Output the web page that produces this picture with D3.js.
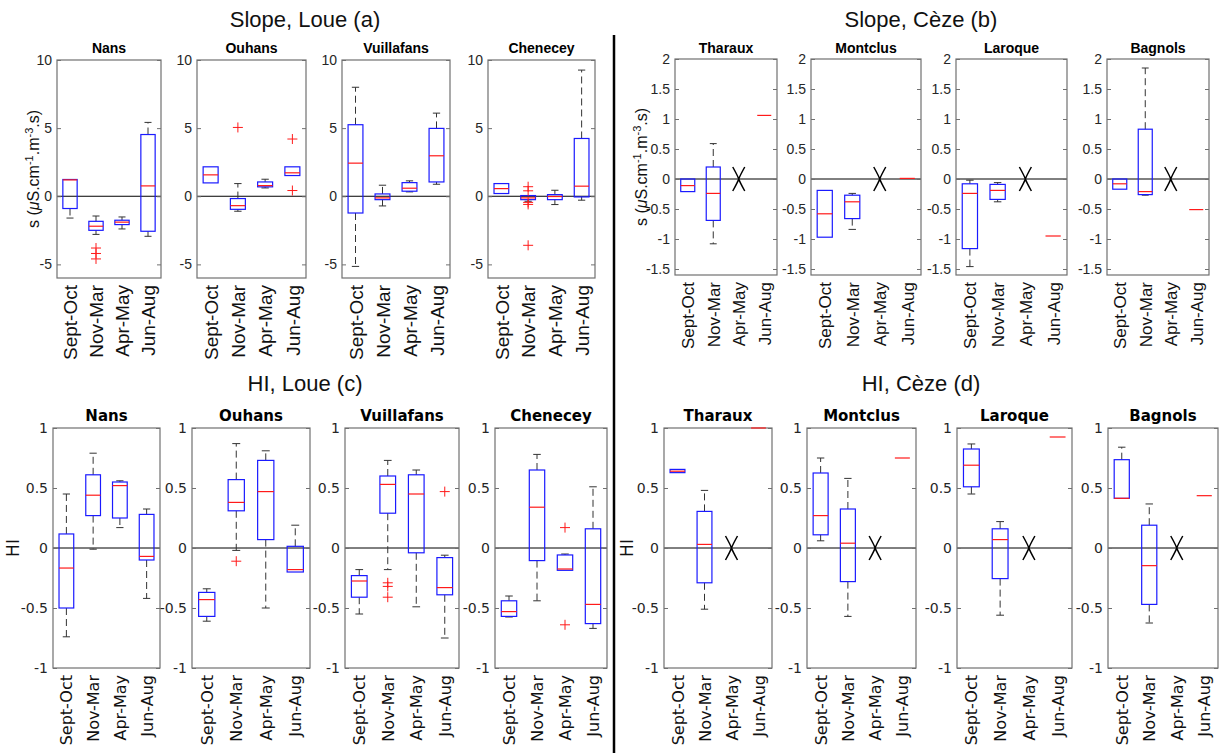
<!DOCTYPE html>
<html><head><meta charset="utf-8">
<script src="https://cdn.jsdelivr.net/npm/d3@7"></script>
<style>body{margin:0;background:#fff}</style></head>
<body>
<svg id="c" width="1219" height="753" xmlns="http://www.w3.org/2000/svg"></svg>
<script>
// ---------- DATA ----------
const seasons = ["Sept-Oct", "Nov-Mar", "Apr-May", "Jun-Aug"];
const loueStations = ["Nans", "Ouhans", "Vuillafans", "Chenecey"];
const cezeStations = ["Tharaux", "Montclus", "Laroque", "Bagnols"];

// box stats per station, per season: [lowWhisker, q1, median, q3, highWhisker]; null = no data
const slopeLoue = [
  [[-1.6, -0.9, 1.2, 1.23, 1.23], [-2.8, -2.5, -2.2, -1.84, -1.45], [-2.4, -2.08, -1.9, -1.76, -1.52], [-2.94, -2.57, 0.76, 4.53, 5.42]],
  [[0.98, 0.98, 1.57, 2.16, 2.16], [-1.1, -0.96, -0.69, -0.17, 0.93], [0.61, 0.69, 0.78, 1.05, 1.25], [1.52, 1.52, 1.72, 2.16, 2.16]],
  [[-5.15, -1.23, 2.43, 5.25, 8.0], [-0.71, -0.25, -0.12, 0.17, 0.81], [0.32, 0.37, 0.59, 1.0, 1.13], [0.88, 1.05, 2.97, 4.98, 6.1]],
  [[0.2, 0.2, 0.56, 0.93, 0.93], [-0.37, -0.25, -0.12, 0.05, 0.05], [-0.61, -0.25, -0.02, 0.12, 0.44], [-0.29, -0.05, 0.74, 4.24, 9.26]]
];
const slopeLoueOut = [
  [[], [-3.8, -4.2, -4.6], [], []],
  [[], [5.05], [], [4.2, 0.42]],
  [[], [], [], []],
  [[], [0.7, 0.4, -0.45, -0.6, -3.6], [], []]
];
const slopeCeze = [
  [[-0.21, -0.21, -0.11, 0, 0], [-1.08, -0.69, -0.24, 0.2, 0.59], null, [1.06, 1.06, 1.06, 1.06, 1.06]],
  [[-0.97, -0.97, -0.58, -0.19, -0.19], [-0.84, -0.66, -0.38, -0.27, -0.24], null, [0.01, 0.01, 0.01, 0.01, 0.01]],
  [[-1.46, -1.16, -0.24, -0.08, -0.02], [-0.38, -0.34, -0.19, -0.09, -0.06], null, [-0.95, -0.95, -0.95, -0.95, -0.95]],
  [[-0.17, -0.17, -0.08, 0, 0], [-0.27, -0.26, -0.21, 0.83, 1.85], null, [-0.51, -0.51, -0.51, -0.51, -0.51]]
];
const slopeCezeOut = [[[], [], [], []], [[], [], [], []], [[], [], [], []], [[], [], [], []]];
const hiLoue = [
  [[-0.74, -0.5, -0.167, 0.117, 0.45], [-0.01, 0.27, 0.44, 0.61, 0.79], [0.17, 0.25, 0.52, 0.55, 0.56], [-0.42, -0.1, -0.07, 0.28, 0.325]],
  [[-0.61, -0.57, -0.43, -0.37, -0.34], [-0.02, 0.31, 0.38, 0.57, 0.87], [-0.5, 0.07, 0.47, 0.73, 0.81], [-0.2, -0.2, -0.18, 0.014, 0.19]],
  [[-0.55, -0.41, -0.275, -0.23, -0.18], [-0.18, 0.29, 0.53, 0.6, 0.73], [-0.49, -0.04, 0.45, 0.61, 0.65], [-0.75, -0.39, -0.33, -0.08, -0.06]],
  [[-0.575, -0.57, -0.53, -0.44, -0.4], [-0.44, -0.105, 0.34, 0.65, 0.78], [-0.186, -0.186, -0.175, -0.058, -0.05], [-0.67, -0.63, -0.47, 0.16, 0.51]]
];
const hiLoueOut = [
  [[], [], [], []],
  [[], [-0.11], [], []],
  [[], [-0.29, -0.32, -0.41], [], [0.47]],
  [[], [], [0.17, -0.64], []]
];
const hiCeze = [
  [[0.628, 0.628, 0.64, 0.655, 0.655], [-0.51, -0.29, 0.03, 0.305, 0.48], null, [1, 1, 1, 1, 1]],
  [[0.06, 0.11, 0.27, 0.625, 0.75], [-0.57, -0.28, 0.04, 0.325, 0.58], null, [0.75, 0.75, 0.75, 0.75, 0.75]],
  [[0.45, 0.51, 0.69, 0.825, 0.867], [-0.56, -0.255, 0.07, 0.16, 0.22], null, [0.925, 0.925, 0.925, 0.925, 0.925]],
  [[0.414, 0.414, 0.414, 0.736, 0.84], [-0.625, -0.47, -0.147, 0.19, 0.367], null, [0.436, 0.436, 0.436, 0.436, 0.436]]
];
const hiCezeOut = [[[], [], [], []], [[], [], [], []], [[], [], [], []], [[], [], [], []]];

const slopeLoueTicks = [-5, 0, 5, 10];
const slopeCezeTicks = [-1.5, -1, -0.5, 0, 0.5, 1, 1.5, 2];
const hiTicks = [-1, -0.5, 0, 0.5, 1];

// ---------- LAYOUT ----------
const ARIAL = "'Liberation Sans', Arial, sans-serif";
const DEJA = "'DejaVu Sans', Verdana, sans-serif";
const groups = [
  {title: "Slope, Loue (a)", tx: 305, ty: 27, stations: loueStations, data: slopeLoue, out: slopeLoueOut,
   ticks: slopeLoueTicks, domain: [-6, 10], top: 60, bottom: 278,
   xs: [[57, 161], [197, 306], [342, 450], [488, 595]], font: ARIAL, tickFs: 14, labFs: 19, subFs: 14,
   subY: 53, ylab: "slope", ylabX: 39},
  {title: "Slope, Cèze (b)", tx: 921, ty: 27, stations: cezeStations, data: slopeCeze, out: slopeCezeOut,
   ticks: slopeCezeTicks, domain: [-1.6, 2], top: 59, bottom: 275,
   xs: [[675, 777], [811, 921], [956, 1067], [1107, 1209]], font: ARIAL, tickFs: 14, labFs: 17, subFs: 14,
   subY: 53, ylab: "slope", ylabX: 647},
  {title: "HI, Loue (c)", tx: 305, ty: 391, stations: loueStations, data: hiLoue, out: hiLoueOut,
   ticks: hiTicks, domain: [-1, 1], top: 428, bottom: 668,
   xs: [[53, 160], [192, 310], [345, 459], [495, 607]], font: DEJA, tickFs: 14, labFs: 16, subFs: 15,
   subY: 421, ylab: "HI", ylabX: 19},
  {title: "HI, Cèze (d)", tx: 921, ty: 391, stations: cezeStations, data: hiCeze, out: hiCezeOut,
   ticks: hiTicks, domain: [-1, 1], top: 428, bottom: 668,
   xs: [[664, 772], [807, 916], [957, 1072], [1108, 1218]], font: DEJA, tickFs: 14, labFs: 16, subFs: 15,
   subY: 421, ylab: "HI", ylabX: 633}
];

const svg = d3.select("#c");
const FRAME = "#707070", TXT = "#262626", BLUE = "#1a1aff", RED = "#ff1a1a", WH = "#333333";

// divider
svg.append("line").attr("x1", 614).attr("x2", 614).attr("y1", 35).attr("y2", 753)
  .attr("stroke", "#000").attr("stroke-width", 2.5);

groups.forEach(g => {
  svg.append("text").attr("x", g.tx).attr("y", g.ty).attr("text-anchor", "middle")
    .attr("font-family", ARIAL).attr("font-size", 22).attr("fill", "#111").text(g.title);

  const y = d3.scaleLinear().domain(g.domain).range([g.bottom, g.top]);

  g.stations.forEach((st, si) => {
    const [x0, x1] = g.xs[si];
    const x = d3.scaleLinear().domain([0.5, 4.5]).range([x0, x1]);
    const step = x(2) - x(1);
    const bw = step * 0.55, cw = step * 0.27;
    const p = svg.append("g");

    // zero line
    p.append("line").attr("x1", x0).attr("x2", x1).attr("y1", y(0)).attr("y2", y(0))
      .attr("stroke", "#000").attr("stroke-width", 1);

    // left axis
    const la = p.append("g").attr("transform", `translate(${x0},0)`)
      .call(d3.axisLeft(y).tickValues(g.ticks).tickSize(-4).tickPadding(5).tickFormat(d => String(d)));
    la.select(".domain").remove();
    la.selectAll("line").attr("stroke", FRAME);
    la.selectAll("text").attr("font-family", g.font).attr("font-size", g.tickFs).attr("fill", TXT);
    const ra = p.append("g").attr("transform", `translate(${x1},0)`)
      .call(d3.axisRight(y).tickValues(g.ticks).tickSize(-4).tickFormat(""));
    ra.select(".domain").remove();
    ra.selectAll("line").attr("stroke", FRAME);

    // x axis labels
    const xa = p.append("g").attr("transform", `translate(0,${g.bottom})`)
      .call(d3.axisBottom(x).tickValues([1, 2, 3, 4]).tickSize(0).tickFormat(i => seasons[i - 1]));
    xa.select(".domain").remove();
    xa.selectAll("text").attr("transform", "rotate(-90)").attr("text-anchor", "end")
      .attr("x", -7).attr("y", 0).attr("dy", "0.35em")
      .attr("font-family", g.font).attr("font-size", g.labFs).attr("fill", "#111");

    // frame
    p.append("rect").attr("x", x0).attr("y", g.top).attr("width", x1 - x0).attr("height", g.bottom - g.top)
      .attr("fill", "none").attr("stroke", FRAME).attr("stroke-width", 1.2);

    // station subtitle
    p.append("text").attr("x", (x0 + x1) / 2).attr("y", g.subY).attr("text-anchor", "middle")
      .attr("font-family", g.font).attr("font-weight", "bold").attr("font-size", g.subFs).attr("fill", "#000").text(st);

    // boxes
    g.data[si].forEach((s, ci) => {
      const cx = x(ci + 1);
      if (!s) {
        const cy = y(0);
        p.append("path")
          .attr("d", `M${cx - 6},${cy - 12} Q${cx - 1},${cy - 3} ${cx},${cy} Q${cx - 1},${cy + 3} ${cx - 6},${cy + 12}` +
                     `M${cx + 6},${cy - 12} Q${cx + 1},${cy - 3} ${cx},${cy} Q${cx + 1},${cy + 3} ${cx + 6},${cy + 12}`)
          .attr("fill", "none").attr("stroke", "#000").attr("stroke-width", 1.5);
        return;
      }
      const [lo, q1, md, q3, hi] = s;
      if (hi > q3) {
        p.append("line").attr("x1", cx).attr("x2", cx).attr("y1", y(q3)).attr("y2", y(hi))
          .attr("stroke", WH).attr("stroke-dasharray", "7,4");
        p.append("line").attr("x1", cx - cw / 2).attr("x2", cx + cw / 2).attr("y1", y(hi)).attr("y2", y(hi))
          .attr("stroke", WH);
      }
      if (lo < q1) {
        p.append("line").attr("x1", cx).attr("x2", cx).attr("y1", y(q1)).attr("y2", y(lo))
          .attr("stroke", WH).attr("stroke-dasharray", "7,4");
        p.append("line").attr("x1", cx - cw / 2).attr("x2", cx + cw / 2).attr("y1", y(lo)).attr("y2", y(lo))
          .attr("stroke", WH);
      }
      p.append("rect").attr("x", cx - bw / 2).attr("width", bw).attr("y", y(q3))
        .attr("height", Math.max(0, y(q1) - y(q3))).attr("fill", "none").attr("stroke", BLUE).attr("stroke-width", 1.2);
      p.append("line").attr("x1", cx - bw / 2).attr("x2", cx + bw / 2).attr("y1", y(md)).attr("y2", y(md))
        .attr("stroke", RED).attr("stroke-width", 1.2);
      g.out[si][ci].forEach(v => {
        const oy = y(v);
        p.append("path").attr("d", `M${cx - 5},${oy}H${cx + 5}M${cx},${oy - 5}V${oy + 5}`)
          .attr("stroke", RED).attr("stroke-width", 1);
      });
    });

    // y label on first panel
    if (si === 0) {
      const cy = (g.top + g.bottom) / 2;
      const t = svg.append("text").attr("transform", `translate(${g.ylabX},${cy}) rotate(-90)`)
        .attr("text-anchor", "middle").attr("font-family", g.font).attr("font-size", g.ylab === "HI" ? 17 : 16)
        .attr("fill", "#111");
      if (g.ylab === "HI") {
        t.text("HI");
      } else {
        t.append("tspan").text("s (");
        t.append("tspan").attr("font-style", "italic").text("μ");
        t.append("tspan").text("S.cm");
        t.append("tspan").attr("font-size", 11).attr("dy", -6).text("-1");
        t.append("tspan").attr("dy", 6).text(".m");
        t.append("tspan").attr("font-size", 11).attr("dy", -6).text("-3");
        t.append("tspan").attr("dy", 6).text(".s)");
      }
    }
  });
});
</script>
</body></html>
